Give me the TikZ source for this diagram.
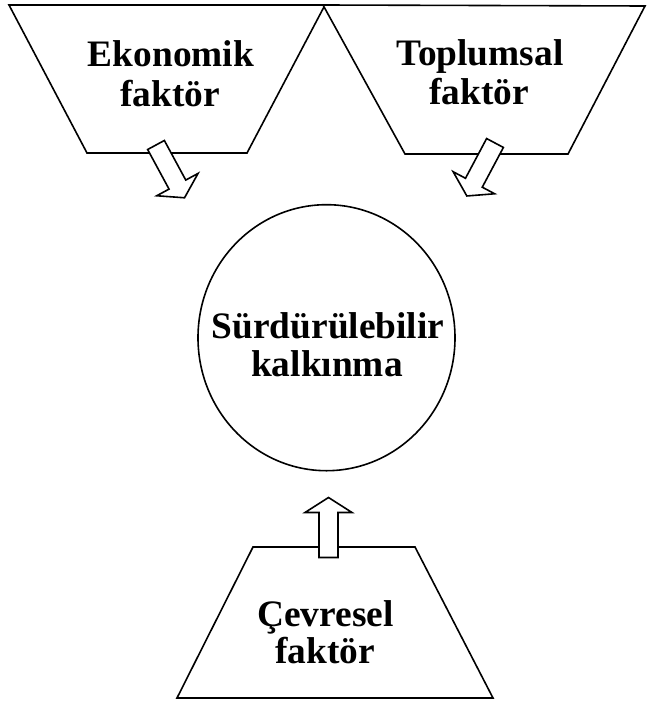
\documentclass[tikz,border=0pt]{standalone}
\usepackage{fontspec}
\setmainfont{Liberation Serif}
\usetikzlibrary{shapes.geometric}
\begin{document}
\begin{tikzpicture}[x=1bp,y=-1bp,
  shape line/.style={draw=black, line width=1.6bp, line join=miter, fill=white},
  label line/.style={font=\bfseries\fontsize{37.5}{40}\selectfont, inner sep=0pt, anchor=base},
  blockarrow/.pic={
    \draw[shape line] (0,-9.5) -- (45,-9.5) -- (45,-23.5) -- (60,0)
      -- (45,23.5) -- (45,9.5) -- (0,9.5) -- cycle;}
]
\useasboundingbox[fill=white] (0,0) rectangle (647,701);

% factor boxes
\draw[shape line] (9,5) -- (325,5) -- (247,153) -- (87,153) -- cycle;
\draw[shape line] (323,5) -- (645,6) -- (568,154) -- (405,154) -- cycle;
\draw[shape line] (253,547) -- (415,547) -- (493,698) -- (177,698) -- cycle;

% central goal
\node[shape line, ellipse, minimum width=257bp, minimum height=266bp, inner sep=0pt]
  (hub) at (326.5,337.7) {};

% labels
\node[label line] (eko1) at (171,66.7) {Ekonomik};
\node[label line] (eko2) at (170,107) {faktör};
\node[label line] (top1) at (480,65.7) {Toplumsal};
\node[label line] (top2) at (479,105) {faktör};
\node[label line] (hub1) at (328,338.3) {Sürdürülebilir};
\node[label line] (hub2) at (327,376.7) {kalkınma};
\node[label line] (cev1) at (325.5,626.7) {Çevresel};
\node[label line] (cev2) at (325,663.3) {faktör};

% block arrows toward the goal
\coordinate (ekoOut) at (156,145);
\coordinate (topOut) at (495,143);
\coordinate (cevOut) at (328.5,557.5);
\pic[rotate=-61.6] at (ekoOut) {blockarrow};
\pic[rotate=-118] at (topOut) {blockarrow};
\pic[rotate=90] at (cevOut) {blockarrow};
\end{tikzpicture}
\end{document}
